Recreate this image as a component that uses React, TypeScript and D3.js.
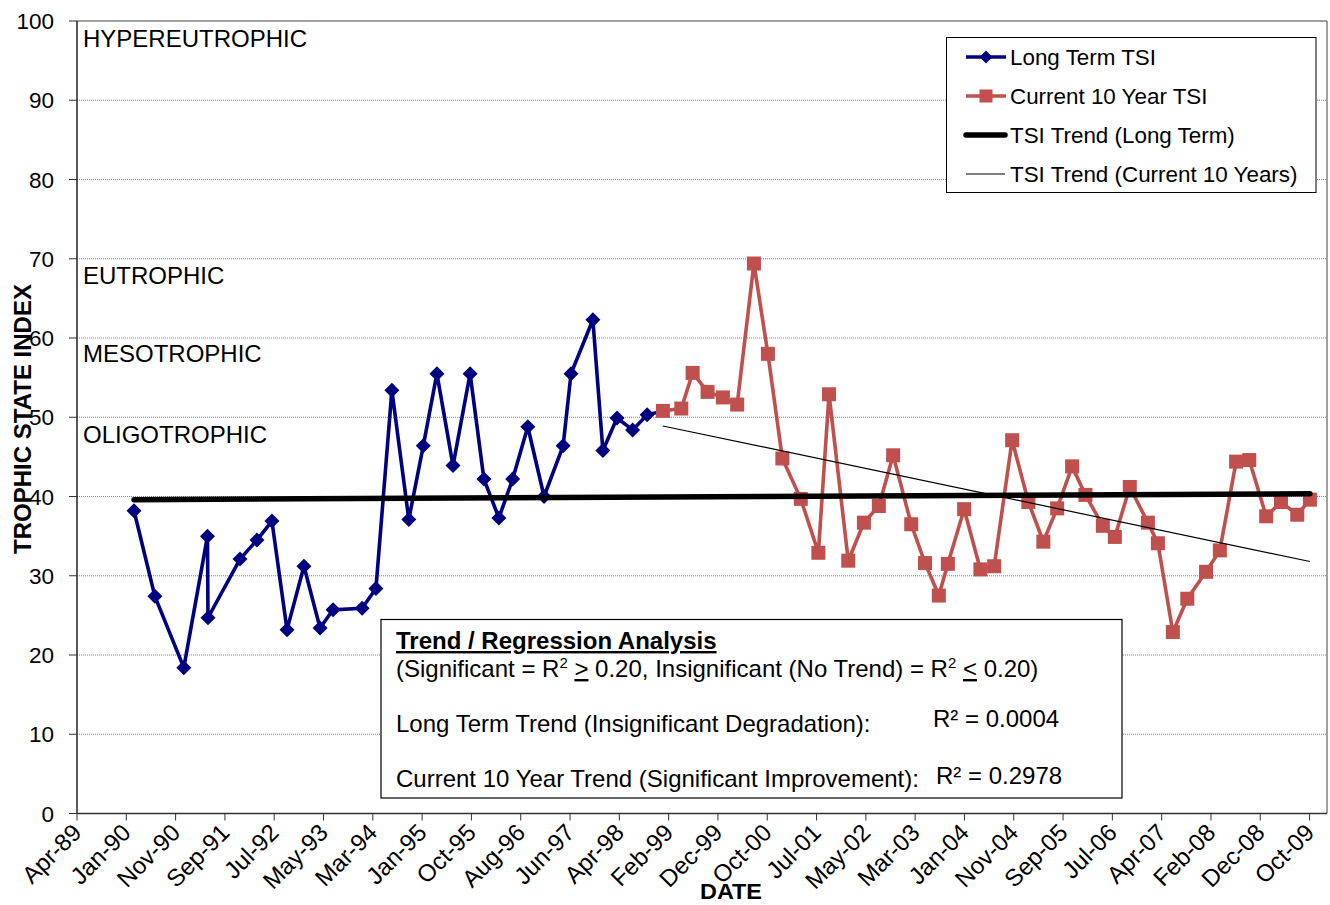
import React from 'react';
import * as d3 from 'd3';

// ---- Data ----
const longTermDates = [
  '1990-03-15', '1990-07-20', '1991-01-12', '1991-06-05', '1991-06-08', '1991-12-20',
  '1992-04-01', '1992-07-01', '1992-10-01', '1993-01-12', '1993-04-20', '1993-07-08',
  '1994-01-01', '1994-03-26', '1994-07-01', '1994-10-12', '1995-01-08', '1995-04-01',
  '1995-07-08', '1995-10-20', '1996-01-12', '1996-04-12', '1996-07-05', '1996-10-05',
  '1997-01-12', '1997-05-08', '1997-06-25', '1997-11-05', '1998-01-05', '1998-04-01',
  '1998-07-05', '1998-10-01',
];
const longTermTSI = [
  38.2, 27.4, 18.4, 35.0, 24.7, 32.1, 34.5, 36.9, 23.2, 31.2, 23.4, 25.7,
  25.9, 28.4, 53.4, 37.1, 46.4, 55.5, 43.9, 55.5, 42.2, 37.3, 42.2, 48.8,
  40.0, 46.4, 55.5, 62.3, 45.8, 49.9, 48.4, 50.3,
];

const currentDates = [
  '1999-01-05', '1999-04-27', '1999-07-05', '1999-10-04', '2000-01-05', '2000-04-01',
  '2000-07-12', '2000-10-05', '2001-01-01', '2001-04-23', '2001-08-08', '2001-10-12',
  '2002-02-06', '2002-05-12', '2002-08-11', '2002-11-06', '2003-02-24', '2003-05-19',
  '2003-08-11', '2003-10-05', '2004-01-12', '2004-04-20', '2004-07-13', '2004-10-30',
  '2005-02-06', '2005-05-08', '2005-07-31', '2005-10-30', '2006-01-19', '2006-05-05',
  '2006-07-17', '2006-10-16', '2007-02-03', '2007-04-05', '2007-07-05', '2007-10-01',
  '2008-01-23', '2008-04-16', '2008-07-24', '2008-10-12', '2009-01-23', '2009-04-23',
  '2009-07-31', '2009-10-16',
];
const currentTSI = [
  50.8, 51.1, 55.6, 53.2, 52.5, 51.6, 69.4, 58.0, 44.8, 39.7, 32.9, 52.9,
  31.9, 36.7, 38.8, 45.2, 36.5, 31.6, 27.5, 31.5, 38.4, 30.8, 31.2, 47.1,
  39.3, 34.3, 38.5, 43.8, 40.2, 36.3, 34.9, 41.2, 36.7, 34.1, 22.9, 27.1,
  30.5, 33.2, 44.4, 44.6, 37.5, 39.3, 37.7, 39.6,
];

const longTrendDates = ['1990-03-15', '2009-10-16'];
const longTrendTSI = [39.6, 40.35];
const currentTrendDates = ['1999-01-05', '2009-10-16'];
const currentTrendTSI = [48.9, 31.8];

const yTicks = [0, 10, 20, 30, 40, 50, 60, 70, 80, 90, 100];
const xTickLabels = [
  'Apr-89', 'Jan-90', 'Nov-90', 'Sep-91', 'Jul-92', 'May-93', 'Mar-94', 'Jan-95',
  'Oct-95', 'Aug-96', 'Jun-97', 'Apr-98', 'Feb-99', 'Dec-99', 'Oct-00', 'Jul-01',
  'May-02', 'Mar-03', 'Jan-04', 'Nov-04', 'Sep-05', 'Jul-06', 'Apr-07', 'Feb-08',
  'Dec-08', 'Oct-09',
];
const xTickStepDays = 300;

const zoneLabels = ['HYPEREUTROPHIC', 'EUTROPHIC', 'MESOTROPHIC', 'OLIGOTROPHIC'];
const zoneLabelValues = [96.7, 66.8, 57.0, 46.8];

const legendLabels = ['Long Term TSI', 'Current 10 Year TSI', 'TSI Trend (Long Term)', 'TSI Trend (Current 10 Years)'];

const FONT = '"Liberation Sans", Arial, Helvetica, sans-serif';
const BLUE = '#000080';
const RED = '#C0504D';

const parse = d3.timeParse('%Y-%m-%d');

export default function App() {
  const W = 1330;
  const H = 905;
  const axisStart = new Date(1989, 3, 2);
  const axisEnd = new Date(2010, 0, 28);
  const x = d3.scaleTime().domain([axisStart, axisEnd]).range([77, 1327]);
  const y = d3.scaleLinear().domain([0, 100]).range([813.5, 21]);

  const lt = longTermDates.map((d, i) => [parse(d)!, longTermTSI[i]] as [Date, number]);
  const cur = currentDates.map((d, i) => [parse(d)!, currentTSI[i]] as [Date, number]);
  const ltTrend = longTrendDates.map((d, i) => [parse(d)!, longTrendTSI[i]] as [Date, number]);
  const curTrend = currentTrendDates.map((d, i) => [parse(d)!, currentTrendTSI[i]] as [Date, number]);

  const line = d3
    .line<[Date, number]>()
    .x((d) => x(d[0]))
    .y((d) => y(d[1]));

  const tickDates = xTickLabels.map((_, i) => d3.timeDay.offset(axisStart, i * xTickStepDays));

  const x0 = x.range()[0];
  const x1 = x.range()[1];
  const yB = y(0);
  const yT = y(100);

  const diamond = (cx: number, cy: number, r = 7.5) =>
    `M${cx},${cy - r}L${cx + r},${cy}L${cx},${cy + r}L${cx - r},${cy}Z`;
  const sq = 14;

  const legendRows = [57, 96, 135, 174];

  return (
    <svg
      width={W}
      height={H}
      style={{ position: 'absolute', left: 0, top: 0, background: '#fff' }}
      fontFamily={FONT}
    >
      <rect x={0} y={0} width={W} height={H} fill="#fff" />

      {/* gridlines */}
      {yTicks.filter((t) => t > 0 && t < 100).map((t) => (
        <line key={t} x1={x0} x2={x1} y1={y(t)} y2={y(t)} stroke="#808080" strokeWidth={1} strokeDasharray="1,1" />
      ))}
      {/* plot border top/right */}
      <line x1={x0} x2={x1} y1={yT} y2={yT} stroke="#808080" strokeWidth={1.5} />
      <line x1={x1} x2={x1} y1={yT} y2={yB} stroke="#808080" strokeWidth={1.5} />

      {/* axes */}
      <line x1={x0} x2={x0} y1={yT} y2={yB} stroke="#222" strokeWidth={1.5} />
      <line x1={x0} x2={x1} y1={yB} y2={yB} stroke="#333" strokeWidth={1.5} />
      {yTicks.map((t) => (
        <g key={t}>
          <line x1={x0 - 8} x2={x0} y1={y(t)} y2={y(t)} stroke="#333" strokeWidth={1} />
          <text x={54} y={y(t)} dy="0.36em" textAnchor="end" fontSize={22.5} fill="#000">
            {t}
          </text>
        </g>
      ))}
      {tickDates.map((d, i) => (
        <g key={i}>
          <line x1={x(d)} x2={x(d)} y1={yB} y2={yB + 7} stroke="#333" strokeWidth={1} />
          <text
            transform={`translate(${x(d) + 6},${834}) rotate(-45)`}
            textAnchor="end"
            fontSize={24}
            fill="#000"
          >
            {xTickLabels[i]}
          </text>
        </g>
      ))}

      {/* zone labels */}
      {zoneLabels.map((l, i) => (
        <text key={l} x={83} y={y(zoneLabelValues[i])} fontSize={24} fill="#000">
          {l}
        </text>
      ))}

      {/* series */}
      <path d={line([...lt, cur[0]])!} fill="none" stroke={BLUE} strokeWidth={3.6} strokeLinejoin="round" />
      {lt.map((d, i) => (
        <path key={i} d={diamond(x(d[0]), y(d[1]))} fill={BLUE} />
      ))}
      <path d={line(cur)!} fill="none" stroke={RED} strokeWidth={3.6} strokeLinejoin="round" />
      {cur.map((d, i) => (
        <rect key={i} x={x(d[0]) - sq / 2} y={y(d[1]) - sq / 2} width={sq} height={sq} fill={RED} />
      ))}

      {/* trends */}
      <path d={line(ltTrend)!} fill="none" stroke="#000" strokeWidth={5.5} strokeLinecap="round" />
      <path d={line(curTrend)!} fill="none" stroke="#000" strokeWidth={1.2} />

      {/* axis titles */}
      <text
        transform={`translate(31,419) rotate(-90)`}
        textAnchor="middle"
        fontSize={24}
        fontWeight="bold"
        textLength={270}
        lengthAdjust="spacingAndGlyphs"
      >
        TROPHIC STATE INDEX
      </text>
      <text x={731} y={899} textAnchor="middle" fontSize={22} fontWeight="bold" textLength={62} lengthAdjust="spacingAndGlyphs">
        DATE
      </text>

      {/* legend */}
      <rect x={946.5} y={37.5} width={369.5} height={155} fill="#fff" stroke="#000" strokeWidth={1} />
      {legendRows.map((ry, i) => (
        <g key={i}>
          {i === 0 && (
            <g>
              <line x1={966} x2={1006} y1={ry} y2={ry} stroke={BLUE} strokeWidth={3.6} />
              <path d={diamond(986, ry, 6.5)} fill={BLUE} />
            </g>
          )}
          {i === 1 && (
            <g>
              <line x1={966} x2={1006} y1={ry} y2={ry} stroke={RED} strokeWidth={3.6} />
              <rect x={986 - 6.5} y={ry - 6.5} width={13} height={13} fill={RED} />
            </g>
          )}
          {i === 2 && <line x1={966} x2={1005} y1={ry} y2={ry} stroke="#000" strokeWidth={5.5} strokeLinecap="round" />}
          {i === 3 && <line x1={966} x2={1005} y1={ry} y2={ry} stroke="#000" strokeWidth={1.2} />}
          <text x={1010} y={ry} dy="0.36em" fontSize={22.4} fill="#000">
            {legendLabels[i]}
          </text>
        </g>
      ))}

      {/* regression text box */}
      <rect x={381} y={619.5} width={741} height={178.5} fill="#fff" stroke="#000" strokeWidth={1.2} />
      <text x={396} y={649} fontSize={24} fontWeight="bold" textDecoration="underline">
        Trend / Regression Analysis
      </text>
      <text x={396} y={677} fontSize={24}>
        (Significant = R<tspan fontSize={15} dy={-9}>2</tspan>
        <tspan dy={9}> </tspan>
        <tspan textDecoration="underline">&gt;</tspan> 0.20, Insignificant (No Trend) = R
        <tspan fontSize={15} dy={-9}>2</tspan>
        <tspan dy={9}> </tspan>
        <tspan textDecoration="underline">&lt;</tspan> 0.20)
      </text>
      <text x={396} y={732} fontSize={24}>
        Long Term Trend (Insignificant Degradation):
      </text>
      <text x={933} y={727} fontSize={24}>
        R² = 0.0004
      </text>
      <text x={396} y={787} fontSize={24}>
        Current 10 Year Trend (Significant Improvement):
      </text>
      <text x={936} y={784} fontSize={24}>
        R² = 0.2978
      </text>
    </svg>
  );
}
